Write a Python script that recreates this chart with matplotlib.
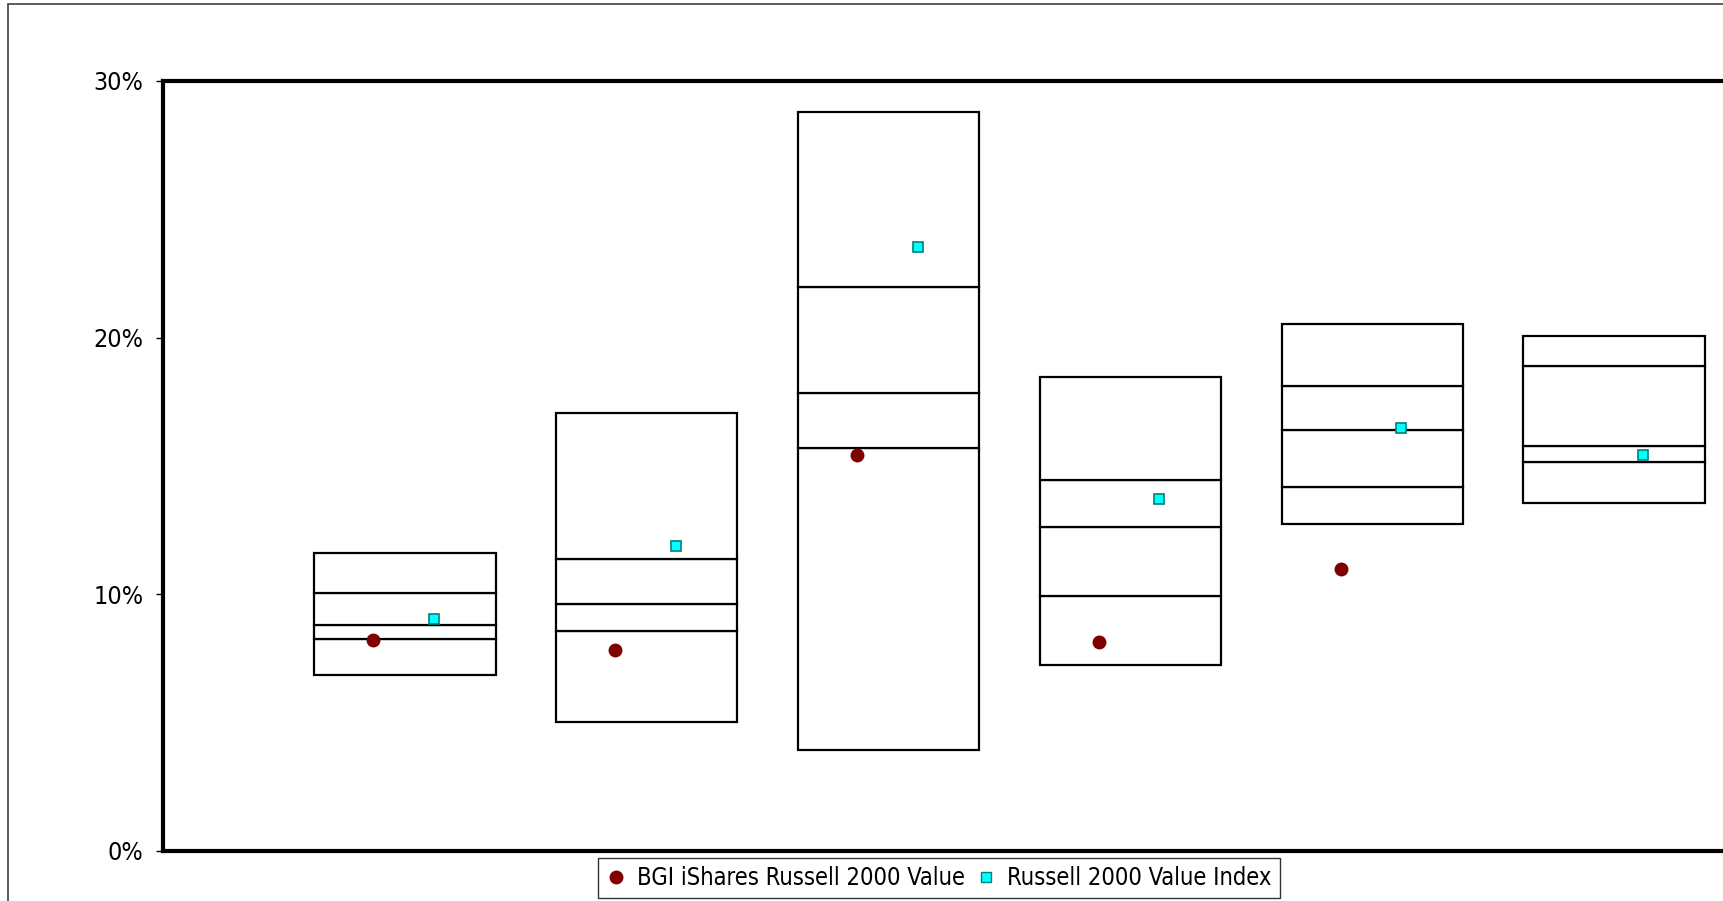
import matplotlib.pyplot as plt
import numpy as np
from matplotlib.patches import Rectangle
from matplotlib.lines import Line2D
from matplotlib.ticker import FuncFormatter

# percentile bands per period, in %
p5 = [6.86, 5.01, 3.94, 7.24, 12.73, 13.54]
p25 = [8.27, 8.57, 15.69, 9.94, 14.19, 15.17]
p50 = [8.79, 9.64, 17.83, 12.64, 16.42, 15.77]
p75 = [10.07, 11.36, 21.99, 14.44, 18.13, 18.90]
p95 = [11.61, 17.06, 28.80, 18.47, 20.53, 20.06]

fund = [8.23, 7.84, 15.43, 8.14, 10.97, np.nan]
index = [9.04, 11.87, 23.53, 13.72, 16.50, 15.43]

fund_name = 'BGI iShares Russell 2000 Value'
index_name = 'Russell 2000 Value Index'
yticks = [0, 10, 20, 30]

plt.rcParams['font.family'] = ['DejaVu Sans']
plt.rcParams['font.stretch'] = 'condensed'


def main():
    fig = plt.figure(figsize=(17.24, 9.01), dpi=100)
    # outer chart frame, cut off on the right and bottom
    fig.patches.append(Rectangle((8 / 1724, -0.1), 1.2, 1 - 4 / 901 + 0.1,
                                 transform=fig.transFigure, fill=False,
                                 edgecolor='#404040', linewidth=1.2))

    ax = fig.add_axes([163 / 1724, 50 / 901, 1693 / 1724, 770 / 901])
    x = np.arange(1, len(p5) + 1)
    levels = [p5, p25, p50, p75, p95]
    for lo, hi in zip(levels[:-1], levels[1:]):
        ax.bar(x, np.array(hi) - np.array(lo), bottom=lo, width=0.75,
               color='white', edgecolor='black', linewidth=1.6, zorder=2)

    ax.plot(x - 0.13, fund, 'o', color='#800000', markersize=9,
            markeredgecolor='#800000', zorder=3)
    ax.plot(x + 0.12, index, 's', color='#00FFFF', markersize=7,
            markeredgecolor='#008080', markeredgewidth=1.2, zorder=3)

    ax.set_xlim(0, 7)
    ax.set_ylim(0, 30)
    ax.set_yticks(yticks)
    ax.yaxis.set_major_formatter(FuncFormatter(lambda v, p: f'{v:.0f}%'))
    ax.set_xticks([])
    ax.tick_params(axis='y', direction='out', length=5, width=1,
                   labelsize=18, pad=9)
    for s in ax.spines.values():
        s.set_linewidth(3)

    handles = [
        Line2D([], [], marker='o', linestyle='', color='#800000',
               markersize=9, label=fund_name),
        Line2D([], [], marker='s', linestyle='', color='#00FFFF',
               markeredgecolor='#008080', markersize=7, label=index_name),
    ]
    leg = fig.legend(handles=handles, loc='center', ncol=2,
                     bbox_to_anchor=(939 / 1724, 1 - 878 / 901),
                     fontsize=17, frameon=True, fancybox=False,
                     handlelength=0.8, handletextpad=0.5, columnspacing=0.5,
                     borderpad=0.35, borderaxespad=0)
    leg.get_frame().set_edgecolor('black')
    leg.get_frame().set_linewidth(1)

    fig.savefig('out.png', dpi=100)


if __name__ == '__main__':
    main()
